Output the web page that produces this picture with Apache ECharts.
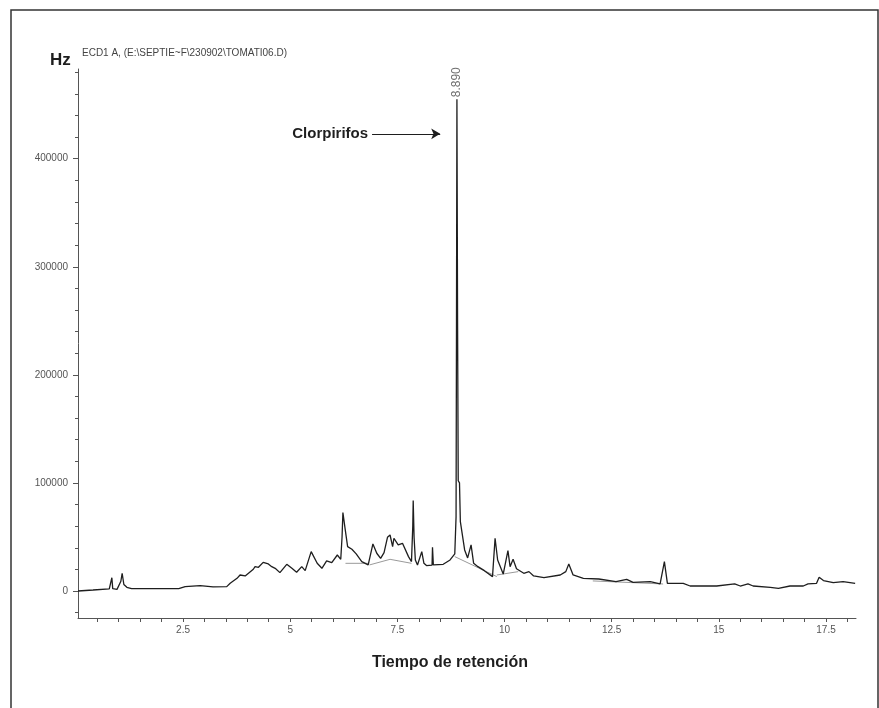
<!DOCTYPE html>
<html>
<head>
<meta charset="utf-8">
<title>Cromatograma ECD</title>
<script src="https://cdn.jsdelivr.net/npm/echarts@6/dist/echarts.min.js"></script>
<style>
  html, body { margin: 0; padding: 0; background: #fff; }
  #chart { width: 879px; height: 708px; }
</style>
</head>
<body>
<div id="chart"></div>
<script>
var tiempo = [0.05, 0.4, 0.78, 0.82, 0.84, 0.86, 0.96, 1.0, 1.05, 1.08, 1.12, 1.19, 1.3, 2.4, 2.55, 2.9, 3.2, 3.52, 3.6, 3.76,
  3.83, 3.95, 4.14, 4.18, 4.26, 4.37, 4.49, 4.57, 4.65, 4.76, 4.8, 4.92, 5.04, 5.15, 5.27, 5.35, 5.49, 5.63, 5.74, 5.85,
  5.97, 6.1, 6.18, 6.21, 6.23, 6.28, 6.34, 6.44, 6.54, 6.67, 6.82, 6.93, 7.02, 7.11, 7.19, 7.27, 7.33, 7.39, 7.42, 7.52,
  7.62, 7.76, 7.83, 7.86, 7.87, 7.89, 7.92, 7.97, 8.07, 8.12, 8.18, 8.31, 8.32, 8.34, 8.57, 8.73, 8.84, 8.87, 8.88, 8.89,
  8.905, 8.92, 8.95, 8.97, 9.07, 9.14, 9.22, 9.28, 9.38, 9.53, 9.72, 9.78, 9.84, 9.97, 10.08, 10.13, 10.2, 10.28, 10.45, 10.57,
  10.68, 10.92, 11.3, 11.43, 11.5, 11.6, 11.84, 12.2, 12.6, 12.85, 13.0, 13.4, 13.63, 13.73, 13.8, 14.17, 14.33, 14.95, 15.37, 15.5,
  15.68, 15.8, 16.2, 16.39, 16.66, 16.97, 17.08, 17.28, 17.34, 17.44, 17.67, 17.9, 18.18];
var senal = [0, 900, 2000, 2200, 12300, 2200, 1500, 2500, 9000, 16400, 6000, 3400, 2100, 2100, 4000, 4900, 3800, 4000, 7100, 11700,
  14800, 13900, 20100, 22500, 21900, 26500, 25000, 22500, 21000, 17000, 17600, 24700, 21000, 17300, 22500, 18800, 36400, 25600, 21000, 27800,
  26200, 33300, 29300, 50000, 72500, 58000, 41000, 38600, 34300, 27200, 24100, 43500, 34900, 30200, 35500, 49700, 51800, 41000, 48800, 42600,
  44100, 31800, 27200, 60000, 83600, 50000, 28700, 24100, 36400, 25600, 23500, 24000, 40400, 24100, 24700, 28700, 34300, 68800, 250000, 455000,
  250000, 102000, 100000, 64200, 38000, 30600, 42600, 25600, 22500, 18800, 13300, 48800, 28700, 15700, 37300, 22500, 29300, 20600, 16400, 17900,
  13900, 12300, 14800, 17900, 25000, 14800, 11700, 11100, 8600, 10800, 8000, 8600, 6500, 27200, 7100, 7100, 4600, 4600, 6500, 4600,
  6500, 4600, 3400, 2500, 4600, 4600, 6500, 7100, 12700, 9600, 7700, 8600, 7100];

// líneas base de integración (segmentos grises)
var baseT = [[6.29, 6.82], [6.85, 7.33, 7.83], [8.84, 9.82], [9.82, 10.32], [12.06, 13.7]];
var baseY = [[25600, 25600], [24100, 29300, 25600], [31800, 13300], [14800, 17900], [9300, 6500]];

// pico marcado
var picoT = 8.89;
var picoY = 455000;
var picoEtiqueta = '8.890';
var flechaT = [6.91, 8.5];
var flechaY = 423000;

// ejes
var yEtiquetas = [0, 100000, 200000, 300000, 400000];
var yMenores = [-20000, 0, 20000, 40000, 60000, 80000, 100000, 120000, 140000, 160000, 180000, 200000, 220000, 240000,
  260000, 280000, 300000, 320000, 340000, 360000, 380000, 400000, 420000, 440000, 460000, 480000];
var xEtiquetas = [2.5, 5, 7.5, 10, 12.5, 15, 17.5];
var xMarcas = [0.5, 1, 1.5, 2, 2.5, 3, 3.5, 4, 4.5, 5, 5.5, 6, 6.5, 7, 7.5, 8, 8.5, 9, 9.5, 10, 10.5, 11, 11.5, 12,
  12.5, 13, 13.5, 14, 14.5, 15, 15.5, 16, 16.5, 17, 17.5, 18];

var fuente = "'Liberation Sans', Arial, sans-serif";
var myChart = echarts.init(document.getElementById('chart'));

var puntos = [];
for (var i = 0; i < tiempo.length; i++) {
    puntos.push([tiempo[i], senal[i]]);
}

var series = [{
    name: 'ECD1 A',
    type: 'line',
    data: puntos,
    showSymbol: false,
    symbol: 'none',
    lineStyle: { color: '#1e1e1e', width: 1.3 },
    z: 3,
    markLine: {
        silent: true,
        symbol: ['none', 'arrow'],
        symbolSize: [8, 9],
        lineStyle: { color: '#1e1e1e', width: 1.2, type: 'solid' },
        label: {
            show: true,
            position: 'start',
            distance: 4,
            formatter: 'Clorpirifos',
            fontFamily: fuente,
            fontWeight: 'bold',
            fontSize: 15,
            color: '#1e1e1e'
        },
        data: [[{ coord: [flechaT[0], flechaY] }, { coord: [flechaT[1], flechaY] }]]
    },
    markPoint: {
        silent: true,
        symbol: 'circle',
        symbolSize: 0,
        label: {
            show: true,
            position: 'top',
            distance: 2,
            rotate: 90,
            align: 'left',
            verticalAlign: 'middle',
            formatter: picoEtiqueta,
            fontFamily: fuente,
            fontSize: 12,
            color: '#707070'
        },
        data: [{ coord: [picoT, picoY] }]
    }
}];

for (var s = 0; s < baseT.length; s++) {
    var seg = [];
    for (var k = 0; k < baseT[s].length; k++) {
        seg.push([baseT[s][k], baseY[s][k]]);
    }
    series.push({
        type: 'line',
        data: seg,
        showSymbol: false,
        symbol: 'none',
        lineStyle: { color: '#9a9a9a', width: 1 },
        z: 2
    });
}

option = {
    animation: false,
    backgroundColor: '#fff',
    grid: { left: 78, right: 23, top: 69, bottom: 90, outerBoundsMode: 'none' },
    xAxis: {
        type: 'value',
        min: 0.05,
        max: 18.2,
        name: 'Tiempo de retención',
        nameLocation: 'middle',
        nameGap: 37,
        nameTextStyle: {
            fontFamily: fuente,
            fontWeight: 'bold',
            fontSize: 16,
            color: '#1e1e1e',
            padding: [0, 34, 0, 0]
        },
        axisLine: { onZero: false, lineStyle: { color: '#555', width: 1 } },
        axisTick: { show: true, customValues: xMarcas, length: 4, lineStyle: { color: '#555' } },
        axisLabel: {
            customValues: xEtiquetas,
            margin: 7,
            fontFamily: fuente,
            fontSize: 10,
            color: '#555',
            formatter: function (v) { return String(v); }
        },
        splitLine: { show: false }
    },
    yAxis: [{
        type: 'value',
        min: -25000,
        max: 483000,
        axisLine: { show: true, lineStyle: { color: '#555', width: 1 } },
        axisTick: { show: true, customValues: yEtiquetas, length: 5, lineStyle: { color: '#555' } },
        axisLabel: {
            customValues: yEtiquetas,
            margin: 10,
            fontFamily: fuente,
            fontSize: 10,
            color: '#555',
            formatter: function (v) { return String(v); }
        },
        splitLine: { show: false }
    }, {
        type: 'value',
        position: 'left',
        min: -25000,
        max: 483000,
        axisLine: { show: false },
        axisTick: { show: true, customValues: yMenores, length: 3, lineStyle: { color: '#555' } },
        axisLabel: { show: false },
        splitLine: { show: false }
    }],
    graphic: [{
        type: 'polyline',
        silent: true,
        shape: { points: [[11, 708], [11, 10], [878, 10], [878, 708]] },
        style: { stroke: '#333', lineWidth: 1.5, fill: null }
    }, {
        type: 'text',
        left: 50,
        top: 52,
        style: { text: 'Hz', font: 'bold 17px ' + fuente, fill: '#1e1e1e' }
    }, {
        type: 'text',
        left: 82,
        top: 48,
        style: { text: 'ECD1 A, (E:\\SEPTIE~F\\230902\\TOMATI06.D)', font: '10px ' + fuente, fill: '#444' }
    }],
    series: series
};
myChart.setOption(option);
</script>
</body>
</html>
